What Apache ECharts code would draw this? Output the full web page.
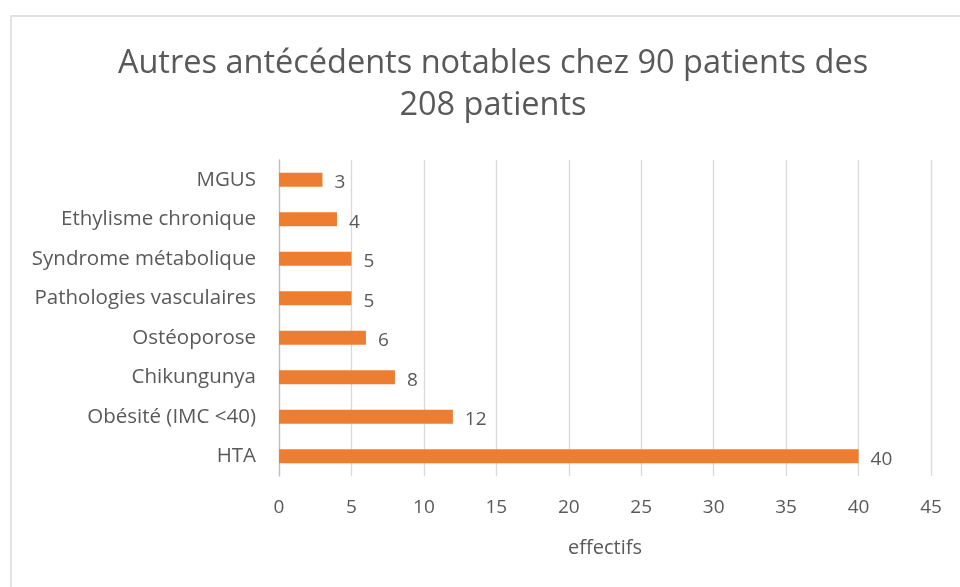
<!DOCTYPE html>
<html>
<head>
<meta charset="utf-8">
<script src="https://cdn.jsdelivr.net/npm/echarts@6/dist/echarts.min.js"></script>
<style>
  html, body { margin: 0; padding: 0; background: #fff; }
  #chart { width: 960px; height: 587px; }
</style>
</head>
<body>
<div id="chart"></div>
<script>
// données (de bas en haut)
const categories = [
  "HTA",
  "Obésité (IMC <40)",
  "Chikungunya",
  "Ostéoporose",
  "Pathologies vasculaires",
  "Syndrome métabolique",
  "Ethylisme chronique",
  "MGUS"
];
const values = [40, 12, 8, 6, 5, 5, 4, 3];
const titleText = "Autres antécédents notables chez 90 patients des\n208 patients";
const axisName = "effectifs";

const font = "'Open Sans', Lato, sans-serif";
const textColor = "#595959";

const myChart = echarts.init(document.getElementById("chart"));

myChart.setOption({
  animation: false,
  textStyle: { fontFamily: font },
  title: {
    text: titleText,
    left: 488,
    top: 38,
    textAlign: "center",
    textStyle: {
      fontFamily: font,
      fontSize: 32.5,
      fontWeight: "normal",
      color: textColor,
      lineHeight: 42
    }
  },
  // cadre du graphique
  graphic: [
    {
      type: "rect",
      shape: { x: 11, y: 16, width: 980, height: 600 },
      style: { fill: "none", stroke: "#d9d9d9", lineWidth: 1.5 },
      z: -1
    }
  ],
  grid: { left: 279, right: 29, top: 160, bottom: 111 },
  xAxis: {
    type: "value",
    min: 0,
    max: 45,
    interval: 5,
    name: axisName,
    nameLocation: "middle",
    nameGap: 62,
    nameTextStyle: { fontSize: 20, color: textColor, fontFamily: font },
    axisLine: { show: false },
    axisTick: { show: false },
    axisLabel: { fontSize: 19, color: textColor, margin: 22, fontFamily: font },
    splitLine: { lineStyle: { color: "#d9d9d9", width: 1.3 } }
  },
  yAxis: {
    type: "category",
    data: categories,
    axisLine: { show: true, lineStyle: { color: "#bfbfbf", width: 1.3 } },
    axisTick: { show: false },
    axisLabel: { fontSize: 20.5, color: textColor, margin: 23, fontFamily: font },
    splitLine: { show: false }
  },
  series: [
    {
      type: "bar",
      data: values,
      barWidth: 14,
      itemStyle: { color: "#ed7d31" },
      label: {
        show: true,
        position: "right",
        distance: 12,
        fontSize: 19,
        color: textColor,
        fontFamily: font,
        offset: [0, 3]
      }
    }
  ]
});
</script>
</body>
</html>
